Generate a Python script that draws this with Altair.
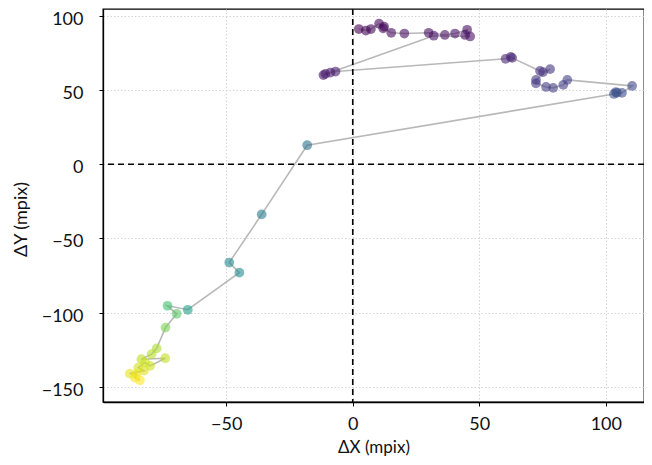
import altair as alt
import pandas as pd

# positions in mpix, listed in time order
dx = [2.4, 5.2, 7.2, 10.4, 12.4, 12.0, 15.2, 20.4, 30.0, 36.4, 40.4, 45.2, 44.4, 46.4, 32.0,
      -11.6, -10.8, -8.8, -6.8,
      60.4, 62.4, 63.0, 74.0, 75.2, 78.0, 72.4, 72.4, 76.4, 79.2, 83.2, 84.8,
      110.4, 106.4, 104.4, 104.0, 103.2,
      -18.0, -36.0, -48.8, -44.8, -65.2, -73.2, -69.6, -74.0,
      -77.5, -79.5, -83.5, -74.1, -80.1, -82.1, -84.8, -82.5, -88.1, -85.5, -86.1, -84.1]
dy = [91.0, 90.0, 91.0, 94.6, 92.6, 91.5, 88.5, 88.0, 88.5, 87.0, 88.0, 90.5, 87.0, 86.0, 86.5,
      60.0, 60.8, 61.7, 62.4,
      71.0, 72.3, 71.6, 62.8, 62.0, 64.0, 56.8, 54.5, 52.0, 51.4, 53.4, 56.8,
      52.7, 48.0, 48.0, 48.6, 47.3,
      12.8, -33.8, -66.2, -73.0, -98.0, -95.3, -100.7, -110.0,
      -124.0, -127.9, -131.3, -130.6, -135.8, -133.6, -137.0, -139.0, -141.0, -141.4, -143.7, -145.5]
# colour parameter (relative time)
tt = [0.00, 0.005, 0.01, 0.015, 0.02, 0.02, 0.025, 0.03, 0.03, 0.035, 0.035, 0.04, 0.04, 0.045, 0.045,
      0.06, 0.065, 0.07, 0.075,
      0.10, 0.105, 0.11, 0.14, 0.145, 0.15, 0.16, 0.165, 0.17, 0.175, 0.18, 0.185,
      0.21, 0.23, 0.235, 0.24, 0.245,
      0.38, 0.42, 0.47, 0.48, 0.56, 0.70, 0.74, 0.80,
      0.88, 0.89, 0.90, 0.91, 0.92, 0.93, 0.94, 0.95, 0.96, 0.97, 0.98, 1.00]

df = pd.DataFrame({"dx": dx, "dy": dy, "t": tt, "i": list(range(len(dx)))})

FONT = "Lato"
xs = alt.Scale(domain=[-98.7, 115.1], nice=False, zero=False)
ys = alt.Scale(domain=[-160.1, 104.5], nice=False, zero=False)

xax = alt.Axis(values=[-50, 0, 50, 100], title="ΔX (mpix)", grid=True,
               labelPadding=9, titleY=45, titleBaseline="middle", titleFontSize=17)
yax = alt.Axis(values=[-150, -100, -50, 0, 50, 100], title="ΔY (mpix)", grid=True,
               labelPadding=16, labelOffset=3.5, titleX=-82, titleY=210,
               titleBaseline="middle", titleAlign="center", titleAngle=-90)

base = alt.Chart(df)

line = base.mark_line(color="#b8b8b8", strokeWidth=1.6).encode(
    x=alt.X("dx:Q", scale=xs, axis=xax),
    y=alt.Y("dy:Q", scale=ys, axis=yax),
    order="i:Q",
)

pts = base.mark_circle(size=95, opacity=0.6).encode(
    x=alt.X("dx:Q", scale=xs),
    y=alt.Y("dy:Q", scale=ys),
    color=alt.Color("t:Q", scale=alt.Scale(scheme="viridis", domain=[0, 1]), legend=None),
)

vline = alt.Chart(pd.DataFrame({"v": [0]})).mark_rule(
    color="black", strokeWidth=1.6, strokeDash=[6, 4]).encode(x=alt.X("v:Q", scale=xs))
hline = alt.Chart(pd.DataFrame({"v": [0]})).mark_rule(
    color="black", strokeWidth=1.6, strokeDash=[6, 4]).encode(y=alt.Y("v:Q", scale=ys))

chart = alt.layer(line, vline, hline, pts).properties(
    width=541, height=393,
    autosize=alt.AutoSizeParams(type="none"),
    padding={"left": 95, "top": 1, "right": 0, "bottom": 55},
).configure_view(
    stroke="black", strokeWidth=1.3
).configure_axis(
    domainColor="black", domainWidth=1.3, tickColor="black", tickSize=4, tickWidth=1,
    gridColor="#cfcfcf", gridDash=[1.5, 2], gridWidth=0.9,
    labelFont=FONT, labelFontSize=18, labelColor="#111111",
    titleFont=FONT, titleFontSize=18, titleFontWeight="normal", titleColor="#111111",
)

chart.save("out.html", embed_options={"renderer": "svg", "actions": False})
